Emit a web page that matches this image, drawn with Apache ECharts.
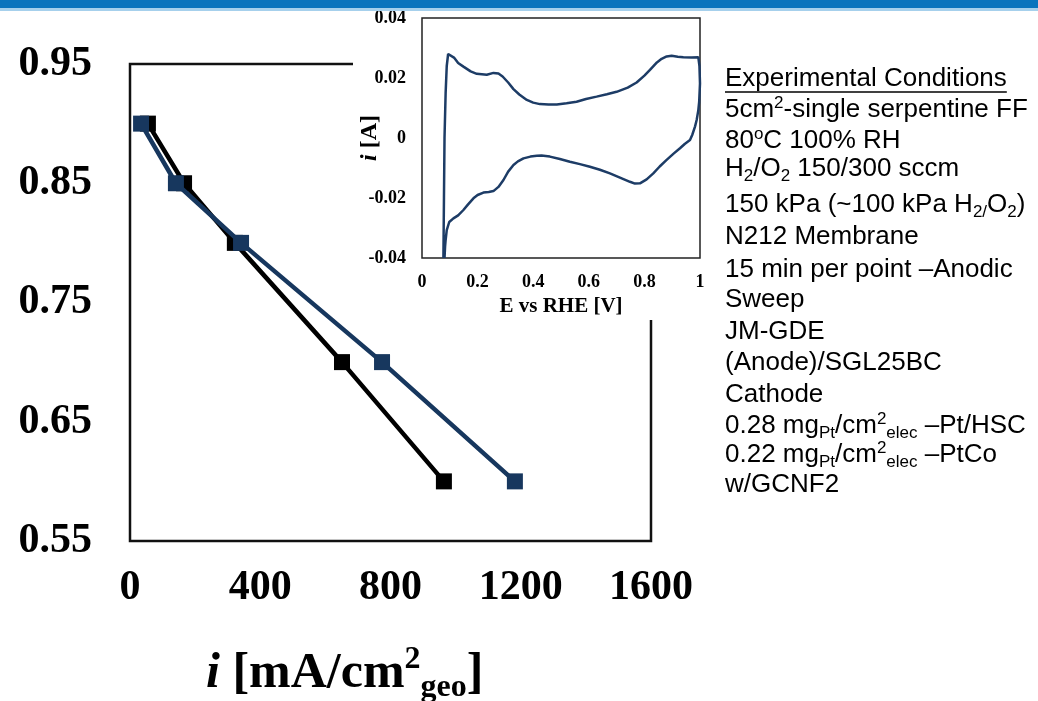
<!DOCTYPE html>
<html><head><meta charset="utf-8">
<script src="https://cdn.jsdelivr.net/npm/echarts@6/dist/echarts.min.js"></script>
<style>html,body{margin:0;padding:0;background:#fff}#c{width:1038px;height:701px}</style>
</head><body><div id="c"></div>
<script>
// ---- main polarization data ----
const blackCurrent = [55, 166, 322, 651, 964];
const blackVoltage = [0.90, 0.85, 0.80, 0.70, 0.60];
const blueCurrent = [34, 141, 341, 774, 1182];
const blueVoltage = [0.90, 0.85, 0.80, 0.70, 0.60];
const mainXRange = [0, 1600];
const mainYRange = [0.55, 0.95];

// ---- inset cyclic voltammogram ----
const cvE = [0.077,0.079,0.081,0.085,0.089,0.094,0.101,0.115,0.130,0.149,0.175,0.197,0.233,0.257,0.275,0.290,0.310,0.329,0.350,0.377,0.400,0.424,0.455,0.485,0.520,0.556,0.590,0.628,0.665,0.700,0.740,0.772,0.800,0.820,0.845,0.862,0.880,0.898,0.920,0.940,0.970,0.994,0.998,1.000,0.997,0.994,0.988,0.982,0.972,0.964,
 0.945,0.928,0.905,0.880,0.855,0.832,0.808,0.784,0.766,0.748,0.712,0.676,0.640,0.604,0.568,0.532,0.496,0.460,0.430,0.413,0.390,0.365,0.345,0.329,0.310,0.293,0.275,0.257,0.240,0.221,0.200,0.185,0.165,0.149,0.130,0.113,0.098,0.089,0.085,0.083,0.081];
const cvI = [-0.0400,-0.0200,0.0000,0.0150,0.0240,0.0280,0.0285,0.0268,0.0250,0.0238,0.0222,0.0214,0.0211,0.0217,0.0215,0.0205,0.0185,0.0163,0.0145,0.0127,0.0118,0.0113,0.0112,0.0112,0.0116,0.0121,0.0130,0.0138,0.0146,0.0154,0.0168,0.0185,0.0208,0.0227,0.0252,0.0264,0.0272,0.0274,0.0271,0.0269,0.0268,0.0269,0.0240,0.0182,0.0120,0.0093,0.0060,0.0038,0.0010,-0.0007,
 -0.0020,-0.0034,-0.0052,-0.0073,-0.0095,-0.0118,-0.0138,-0.0151,-0.0152,-0.0146,-0.0132,-0.0118,-0.0106,-0.0096,-0.0087,-0.0079,-0.0070,-0.0062,-0.0058,-0.0059,-0.0062,-0.0068,-0.0078,-0.0090,-0.0112,-0.0140,-0.0163,-0.0177,-0.0180,-0.0182,-0.0190,-0.0201,-0.0222,-0.0240,-0.0258,-0.0268,-0.0280,-0.0307,-0.0340,-0.0362,-0.0400];

// ---- text ----
const conditionLines = [
  "Experimental Conditions",
  "5cm{sup|2}-single serpentine FF",
  "80{supo|o}C 100% RH",
  "H{sub|2}/O{sub|2} 150/300 sccm",
  "150 kPa (~100 kPa H{sub|2/}O{sub|2})",
  "N212 Membrane",
  "15 min per point \u2013Anodic",
  "Sweep",
  "JM-GDE",
  "(Anode)/SGL25BC",
  "Cathode",
  "0.28 mg{sub|Pt}/cm{sup|2}{sub|elec} \u2013Pt/HSC",
  "0.22 mg{sub|Pt}/cm{sup|2}{sub|elec} \u2013PtCo",
  "w/GCNF2"
];
const lineBaselines = [88, 119, 150, 178, 214, 246, 279, 309, 341, 372, 404, 435, 464, 494];

const SERIF = '"Liberation Serif","Times New Roman",serif';
const SANS = '"Liberation Sans",Arial,sans-serif';
const pair = (xs, ys) => xs.map((x, i) => [x, ys[i]]);

const chart = echarts.init(document.getElementById('c'), null, {renderer: 'canvas'});

// measure header width for underline
const mctx = document.createElement('canvas').getContext('2d');
mctx.font = '26px ' + SANS;
const headerW = mctx.measureText(conditionLines[0]).width;

const textX = 725;
const graphics = [
  {type: 'rect', z: 20, shape: {x: 0, y: 0, width: 1038, height: 8}, style: {fill: '#0a74bd'}},
  {type: 'rect', z: 20, shape: {x: 0, y: 8, width: 1038, height: 3}, style: {fill: '#a6d0ec'}},
  {type: 'rect', z: 5, shape: {x: 353, y: 11, width: 354, height: 309}, style: {fill: '#fff'}},
  {type: 'line', z: 20, shape: {x1: textX, y1: 92, x2: textX + headerW, y2: 92}, style: {stroke: '#000', lineWidth: 1.5}},
  {type: 'text', z: 20, x: 206, y: 644, style: {
    text: '{i|i} [mA/cm{sup|2}{sub|geo}]', fill: '#000', fontFamily: SERIF, fontWeight: 'bold', fontSize: 50,
    lineHeight: 60, verticalAlign: 'top',
    rich: {
      i: {fontFamily: SERIF, fontWeight: 'bold', fontStyle: 'italic', fontSize: 50, lineHeight: 60},
      sup: {fontFamily: SERIF, fontWeight: 'bold', fontSize: 32, lineHeight: 32, verticalAlign: 'top'},
      sub: {fontFamily: SERIF, fontWeight: 'bold', fontSize: 32, lineHeight: 26, verticalAlign: 'bottom'}
    }}}
];
conditionLines.forEach((t, k) => {
  graphics.push({type: 'text', z: 20, x: textX, y: lineBaselines[k] - 24.5, style: {
    text: t, fill: '#000', fontFamily: SANS, fontSize: 26, lineHeight: 31, verticalAlign: 'top',
    rich: {
      sup: {fontFamily: SANS, fontSize: 17, lineHeight: 26, verticalAlign: 'top'},
      supo: {fontFamily: SANS, fontSize: 17, lineHeight: 22, verticalAlign: 'top'},
      sub: {fontFamily: SANS, fontSize: 17, lineHeight: 15, verticalAlign: 'bottom'}
    }}});
});

const option = {
  animation: false,
  backgroundColor: '#fff',
  grid: [
    {left: 130, top: 64, width: 521, height: 477, show: true, borderColor: '#111', borderWidth: 2.5, backgroundColor: 'transparent', z: 0, outerBoundsMode: 'none', containLabel: false},
    {left: 422, top: 18, width: 278, height: 240, show: true, borderColor: '#222', borderWidth: 1.5, backgroundColor: '#fff', z: 6, outerBoundsMode: 'none', containLabel: false}
  ],
  xAxis: [
    {type: 'value', gridIndex: 0, min: mainXRange[0], max: mainXRange[1], interval: 400,
     axisLine: {show: false}, axisTick: {show: false}, splitLine: {show: false},
     axisLabel: {margin: 26, color: '#000', fontFamily: SERIF, fontWeight: 'bold', fontSize: 42,
       formatter: v => String(v)}},
    {type: 'value', gridIndex: 1, min: 0, max: 1, interval: 0.2, z: 7,
     axisLine: {show: false}, axisTick: {show: false}, splitLine: {show: false},
     axisLabel: {margin: 15, color: '#000', fontFamily: SERIF, fontWeight: 'bold', fontSize: 18},
     name: 'E vs RHE [V]', nameLocation: 'middle', nameGap: 38, nameMoveOverlap: false,
     nameTextStyle: {color: '#000', fontFamily: SERIF, fontWeight: 'bold', fontSize: 21}}
  ],
  yAxis: [
    {type: 'value', gridIndex: 0, min: mainYRange[0], max: mainYRange[1], interval: 0.05,
     axisLine: {show: false}, axisTick: {show: false}, splitLine: {show: false},
     axisLabel: {margin: 38, color: '#000', fontFamily: SERIF, fontWeight: 'bold', fontSize: 42,
       formatter: v => (Math.round(v * 100) % 10 === 5) ? v.toFixed(2) : ''}},
    {type: 'value', gridIndex: 1, min: -0.04, max: 0.04, interval: 0.02, z: 7,
     axisLine: {show: false}, axisTick: {show: false}, splitLine: {show: false},
     axisLabel: {margin: 16, color: '#000', fontFamily: SERIF, fontWeight: 'bold', fontSize: 18},
     name: '{i|i} [A]', nameLocation: 'middle', nameGap: 40, nameRotate: 90, nameMoveOverlap: false,
     nameTextStyle: {color: '#000', fontFamily: SERIF, fontWeight: 'bold', fontSize: 24,
       rich: {i: {fontFamily: SERIF, fontWeight: 'bold', fontStyle: 'italic', fontSize: 24}}}}
  ],
  series: [
    {type: 'line', xAxisIndex: 0, yAxisIndex: 0, z: 2, data: pair(blackCurrent, blackVoltage),
     symbol: 'rect', symbolSize: 16, lineStyle: {color: '#000', width: 4.5}, itemStyle: {color: '#000'}},
    {type: 'line', xAxisIndex: 0, yAxisIndex: 0, z: 3, data: pair(blueCurrent, blueVoltage),
     symbol: 'rect', symbolSize: 16, lineStyle: {color: '#17375e', width: 4.5}, itemStyle: {color: '#17375e'}},
    {type: 'line', xAxisIndex: 1, yAxisIndex: 1, z: 8, data: pair(cvE, cvI), showSymbol: false, symbol: 'none',
     lineStyle: {color: '#1d3c66', width: 2.5}, clip: true,
     markLine: {silent: true, symbol: 'none', label: {show: false}, lineStyle: {color: '#999', width: 1, type: 'solid'},
       data: [{yAxis: 0}]}}
  ],
  graphic: {elements: graphics}
};
chart.setOption(option);
</script></body></html>
